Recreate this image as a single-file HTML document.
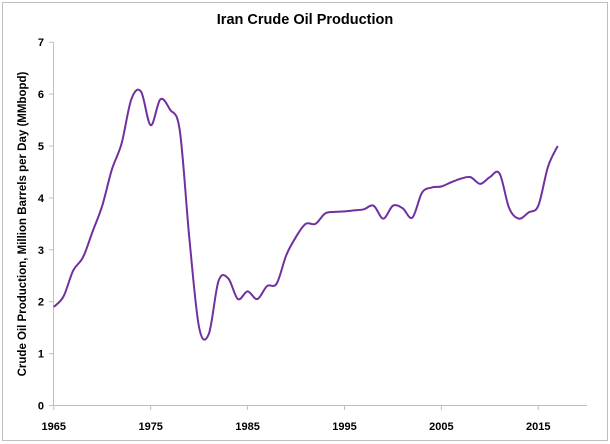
<!DOCTYPE html>
<html><head><meta charset="utf-8"><style>
html,body{margin:0;padding:0;background:#fff}
svg{display:block;font-family:"Liberation Sans",Arial,sans-serif}
</style></head><body>
<svg id="c" width="610" height="444" viewBox="0 0 610 444">
<rect x="2.5" y="2.5" width="605" height="438" fill="#fff" stroke="#bfbfbf" stroke-width="1"/>
<text x="305" y="24" text-anchor="middle" font-size="14.5" font-weight="bold">Iran Crude Oil Production</text>
<text transform="translate(26,224) rotate(-90)" text-anchor="middle" font-size="11.5" font-weight="bold">Crude Oil Production, Million Barrels per Day (MMbopd)</text>
<line x1="53.5" y1="42" x2="53.5" y2="405.5" stroke="#bfbfbf"/>
<line x1="53" y1="405.5" x2="587" y2="405.5" stroke="#bfbfbf"/>
<g id="ax" font-size="11" font-weight="bold"></g>
<path id="p" fill="none" stroke="#7030a0" stroke-width="2"/>
</svg>
<script>
var X=function(y){return 53.8+(y-1965)*9.69},Y=function(v){return 405.5-v*51.9};
var ax=document.getElementById('ax'),h='';
for(var i=0;i<=7;i++){var y=Y(i);h+='<line x1="49" x2="53" y1="'+y+'" y2="'+y+'" stroke="#bfbfbf"/><text x="44" y="'+(y+4)+'" text-anchor="end">'+i+'</text>';}
for(var yr=1965;yr<=2015;yr+=10){var x=X(yr);h+='<line x1="'+x+'" x2="'+x+'" y1="405" y2="410" stroke="#bfbfbf"/><text x="'+x+'" y="430" text-anchor="middle">'+yr+'</text>';}
ax.innerHTML=h;
var d=[1.9,2.1,2.6,2.85,3.35,3.85,4.55,5.05,5.9,6.05,5.4,5.9,5.7,5.3,3.2,1.5,1.38,2.4,2.45,2.05,2.2,2.05,2.3,2.35,2.9,3.25,3.5,3.5,3.7,3.73,3.74,3.76,3.78,3.85,3.6,3.85,3.8,3.62,4.1,4.2,4.22,4.3,4.37,4.4,4.27,4.4,4.47,3.8,3.6,3.72,3.85,4.6,5.0];
var P=d.map(function(v,i){return [X(1965+i),Y(v)]});
var s='M'+P[0][0]+','+P[0][1];
for(var i=0;i<P.length-1;i++){var p0=P[i-1]||P[i],p1=P[i],p2=P[i+1],p3=P[i+2]||p2;
s+='C'+(p1[0]+(p2[0]-p0[0])/6)+','+(p1[1]+(p2[1]-p0[1])/6)+' '+(p2[0]-(p3[0]-p1[0])/6)+','+(p2[1]-(p3[1]-p1[1])/6)+' '+p2[0]+','+p2[1];}
document.getElementById('p').setAttribute('d',s);
</script>
</body></html>
